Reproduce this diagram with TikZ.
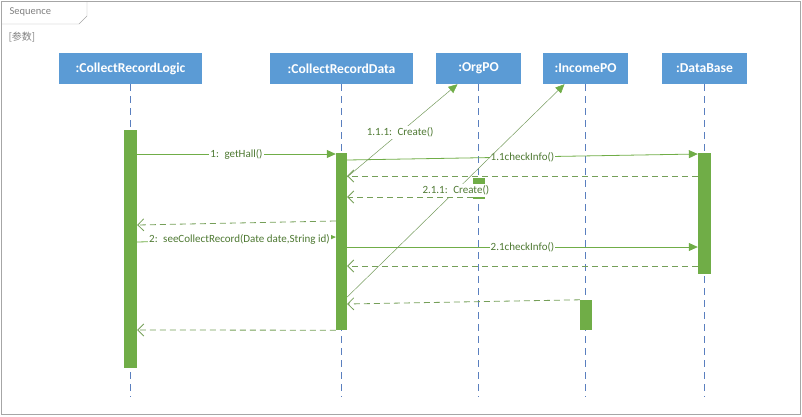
\documentclass[tikz,border=0pt]{standalone}
\usepackage{fontspec}
\setmainfont{Carlito}
\newfontfamily\cjkfont{Noto Sans CJK SC}
\usetikzlibrary{arrows.meta,positioning}
\definecolor{umlgreen}{HTML}{70AD47}
\definecolor{umlblue}{HTML}{5B9BD5}
\definecolor{lifeblue}{HTML}{5A7FBF}
\definecolor{framegray}{HTML}{A6A6A6}

\tikzset{
  head/.style={fill=umlblue, text=white, font=\bfseries\fontsize{13.6}{15}\selectfont, minimum height=31pt, inner sep=0pt},
  bar/.style={fill=umlgreen, inner sep=0pt},
  lifeline/.style={lifeblue, line width=0.7pt, dash pattern=on 7pt off 5pt},
  msg/.style={umlgreen, line width=0.8pt, -{Triangle[length=9pt,width=8pt]}},
  create/.style={umlgreen!60!gray, line width=0.5pt, -{Triangle[length=9pt,width=8pt,fill=umlgreen,color=umlgreen]}},
  ret/.style={umlgreen!70!gray, line width=0.8pt, dash pattern=on 6pt off 4pt, -{Straight Barb[length=6pt,width=12pt]}},
  lbl/.style={fill=white, inner xsep=1pt, inner ysep=2pt, text=umlgreen!70!black, font=\fontsize{11}{12}\selectfont}
}

\begin{document}
\begin{tikzpicture}[x=1pt,y=-1pt]
\useasboundingbox (0,0) rectangle (802,416);

% frame and tab
\draw[framegray] (1,1) rectangle (800,414);
\draw[framegray] (1,24) -- (79,24) -- (87,16) -- (87,1);
\node[anchor=west, text=gray, font=\fontsize{10.5}{12}\selectfont] (frameName) at (6,12) {Sequence};
\node[anchor=west, text=gray, font=\cjkfont\fontsize{10}{12}\selectfont] (frameArgs) at (5,37) {[参数]};

% object heads
\node[head, minimum width=143pt] (logic) at (130.5,68.5) {:CollectRecordLogic};
\node[head, minimum width=143pt] (data) at (341.5,68.5) {:CollectRecordData};
\node[head, minimum width=85pt] (org) at (478.5,68.5) {:OrgPO};
\node[head, minimum width=85pt] (income) at (585.5,68.5) {:IncomePO};
\node[head, minimum width=85pt] (db) at (704.5,68.5) {:DataBase};

% lifelines
\foreach \obj in {logic,data,org,income,db} {
    \coordinate (\obj End) at (\obj.south |- 0,397);
    \draw[lifeline] (\obj.south) -- (\obj End);
}

% activation bars
\node[bar, minimum width=13pt, minimum height=238pt] (logicBar) at (130.5,249) {};
\node[bar, minimum width=11pt, minimum height=177pt] (dataBar) at (341.5,241.5) {};
\node[bar, minimum width=12pt, minimum height=21pt] (orgBar) at (479,188.5) {};
\node[bar, minimum width=12pt, minimum height=30pt] (incomeBar) at (586,315) {};
\node[bar, minimum width=13pt, minimum height=121pt] (dbBar) at (704.5,213.5) {};

% messages
\draw[msg] (logicBar.east |- 0,154) -- (dataBar.west |- 0,154) node[lbl, midway] {1:\enspace getHall()};
\draw[msg] (dataBar.east |- 0,160) -- (dbBar.west |- 0,154) node[lbl, pos=0.5] {1.1checkInfo()};
\draw[ret] (dbBar.west |- 0,176) -- (dataBar.east |- 0,176);
\draw[ret] (orgBar.west |- 0,197) -- (dataBar.east |- 0,197);
\draw[ret] (dataBar.west |- 0,221) -- (logicBar.east |- 0,225);
\draw[msg] (logicBar.east |- 0,242) -- (dataBar.west |- 0,237) node[lbl, midway, xshift=3pt] {2:\enspace seeCollectRecord(Date date,String id)};
\draw[msg] (dataBar.east |- 0,247) -- (dbBar.west |- 0,247) node[lbl, midway] {2.1checkInfo()};
\draw[ret] (dbBar.west |- 0,266) -- (dataBar.east |- 0,266);
\draw[ret] (incomeBar.north west) -- (dataBar.east |- 0,304);
\draw[ret] (dataBar.south west) -- (logicBar.east |- 0,330);

% create messages
\draw[create] (dataBar.east |- 0,177) -- ([xshift=-21pt]org.south) node[lbl, pos=0.48] {1.1.1:\enspace Create()};
\draw[create] (dataBar.east |- 0,297) -- ([xshift=-21pt]income.south) node[lbl, pos=0.5] {2.1.1:\enspace Create()};

\end{tikzpicture}
\end{document}
